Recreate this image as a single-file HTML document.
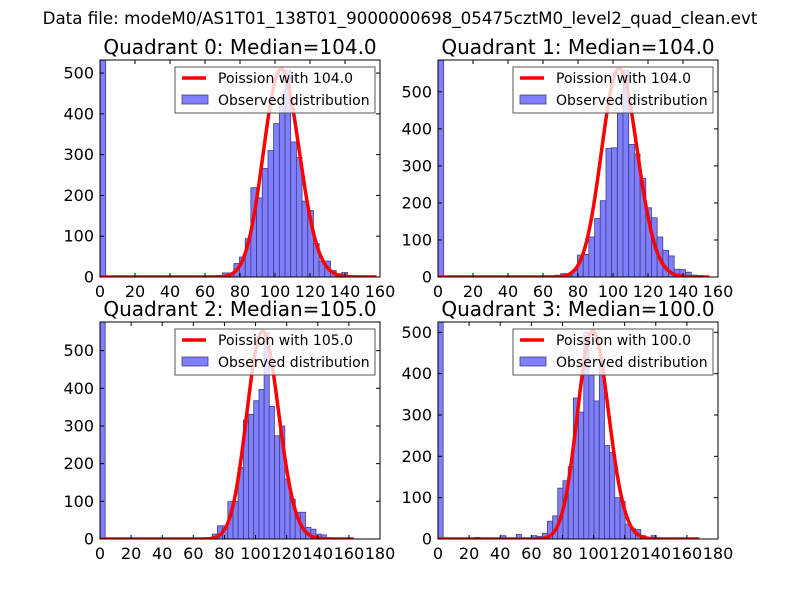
<!DOCTYPE html>
<html><head><meta charset="utf-8">
<style>
html,body{margin:0;padding:0;background:#fff;}
svg{display:block;font-family:"DejaVu Sans","Liberation Sans",sans-serif;}
</style></head>
<body>
<svg id="fig" width="800" height="600" viewBox="0 0 800 600" xmlns="http://www.w3.org/2000/svg">
<rect width="800" height="600" fill="#fff"/>
<text x="400" y="24" font-size="16.7" text-anchor="middle">Data file: modeM0/AS1T01_138T01_9000000698_05475cztM0_level2_quad_clean.evt</text>
</svg>
<script>
// ---- data ----
const medians = [104.0, 104.0, 105.0, 100.0];
const zeroBinCounts = [532, 586, 576, 525];
const binWidths = [3.25, 3.25, 3.33, 3.33];
const xMaxes = [160, 160, 180, 180];
const yMaxes = [532, 586, 576, 525];
const curvePeaks = [510, 563, 551, 503];
const curveEnds = [158, 155, 163, 168];
const q0Edges = [66.7,70,73.2,76.5,79.7,83,86.2,89.5,92.7,96,99.2,102.5,105.7,109,112.2,115.5,118.7,122,125.2,128.5,131.7,135,138.2];
const q0Counts = [4,10,10,33,49,94,219,194,266,310,376,419,507,331,293,186,163,82,39,39,16,8,11];
const q1Edges = [66.7,70,73.2,76.5,79.7,83,86.2,89.5,92.7,96,99.2,102.5,105.7,109,112.2,115.5,118.7,122,125.2,128.5,131.7,135,138.2,141.5,144.7,148,151.2];
const q1Counts = [5,9,9,18,59,61,108,158,206,347,349,442,559,358,332,266,187,160,108,72,57,21,20,13,5,4,2];
const q2Edges = [72.2,75.5,78.8,82.2,85.5,88.8,92.2,95.5,98.8,102.2,105.5,108.8,112.2,115.5,118.8,122.2,125.5,128.8,132.2,135.5,138.8,142.2];
const q2Counts = [13,35,35,99,100,190,316,331,367,397,549,352,274,300,159,106,71,71,31,26,13,11];
const q3Edges = [23.7,40.3,50.3,60.3,63.7,67,70.3,73.7,77,80.3,83.7,87,90.3,93.7,97,100.3,103.7,107,110.3,113.7,117,120.3,123.7,127,130.3,137];
const q3Counts = [4,8,11,8,6,14,43,56,123,141,175,341,307,500,396,334,430,226,209,100,91,36,25,23,8,8];
const allEdges = [q0Edges, q1Edges, q2Edges, q3Edges];
const allCounts = [q0Counts, q1Counts, q2Counts, q3Counts];
const xTickStep = 20;
const yTickStep = 100;

const NS = "http://www.w3.org/2000/svg";
const svg = document.getElementById('fig');
function mk(tag, attrs, parent){ const e=document.createElementNS(NS,tag); for(const k in attrs) e.setAttribute(k,attrs[k]); (parent||svg).appendChild(e); return e; }
function lgamma(z){ if(z<1) return 0; return (z-0.5)*Math.log(z)-z+0.5*Math.log(2*Math.PI)+1/(12*z)-1/(360*z*z*z); }
function pois(k,mu){ return Math.exp(k*Math.log(mu)-mu-lgamma(k+1)); }

const boxes = [[100,60],[438,60],[100,322],[438,322]];
const W=280, H=217;
for(let p=0;p<4;p++){
  const [L,T]=boxes[p];
  const g = mk('g',{});
  
  
  const sx = v => L + v/xMaxes[p]*W;
  const sy = v => T + H - v/yMaxes[p]*H;
  const clip = mk('clipPath',{id:'c'+p},g);
  mk('rect',{x:L,y:T,width:W,height:H},clip);
  const plot = mk('g',{'clip-path':'url(#c'+p+')'},g);
  const zb = mk('rect',{x:sx(0),y:sy(zeroBinCounts[p]),width:sx(binWidths[p])-sx(0),height:sy(0)-sy(zeroBinCounts[p]),fill:'#7f7fff',stroke:'#3f3f80','stroke-width':0.8},plot);
  
  
  const edges=allEdges[p], counts=allCounts[p];
  for(let i=0;i<edges.length;i++){
    const r = mk('rect',{x:sx(edges[i]),y:sy(counts[i]),width:sx(edges[i]+binWidths[p])-sx(edges[i]),height:sy(0)-sy(counts[i]),fill:'#7f7fff',stroke:'#3f3f80','stroke-width':0.8},plot);
    
    
  }
  const mu=medians[p]; const peak=pois(Math.round(mu),mu);
  let d='';
  for(let k=0;k<=curveEnds[p];k++){ const v=pois(k,mu)/peak*curvePeaks[p]; d+=(k?'L':'M')+sx(k).toFixed(2)+','+sy(v).toFixed(2); }
  const c = mk('path',{d:d,fill:'none',stroke:'#ff0000','stroke-width':3.5,'stroke-linejoin':'round'},plot);
  
  
  mk('rect',{x:L,y:T,width:W,height:H,fill:'none',stroke:'#000','stroke-width':1},g);
  for(let v=0; v<=xMaxes[p]; v+=xTickStep){
    const x=sx(v);
    mk('line',{x1:x,y1:T+H,x2:x,y2:T+H-4,stroke:'#000'},g);
    mk('line',{x1:x,y1:T,x2:x,y2:T+4,stroke:'#000'},g);
    const t=mk('text',{x:x,y:T+H+20,'font-size':16,'text-anchor':'middle'},g);
    t.textContent=v;
    
    
  }
  for(let v=0; v<=yMaxes[p]; v+=yTickStep){
    const y=sy(v);
    mk('line',{x1:L,y1:y,x2:L+4,y2:y,stroke:'#000'},g);
    mk('line',{x1:L+W,y1:y,x2:L+W-4,y2:y,stroke:'#000'},g);
    const t=mk('text',{x:L-6,y:y+5.5,'font-size':16,'text-anchor':'end'},g);
    t.textContent=v;
    
    
  }
  const tt=mk('text',{x:L+W/2,y:T-6,'font-size':20,'text-anchor':'middle'},g);
  tt.textContent='Quadrant '+p+': Median='+medians[p].toFixed(1);
  
  
  const lg=mk('g',{},g);
  
  
  mk('rect',{x:L+75,y:T+7,width:200,height:46,fill:'#fff','fill-opacity':0.8,stroke:'#555','stroke-width':1},lg);
  mk('line',{x1:L+82,y1:T+18,x2:L+106,y2:T+18,stroke:'#ff0000','stroke-width':3.5},lg);
  const l1=mk('text',{x:L+118,y:T+23,'font-size':14},lg);
  l1.textContent='Poission with '+medians[p].toFixed(1);
  
  
  mk('rect',{x:L+82,y:T+35,width:26,height:9,fill:'#7f7fff',stroke:'#3f3f80','stroke-width':0.8},lg);
  const l2=mk('text',{x:L+118,y:T+45,'font-size':14},lg);
  l2.textContent='Observed distribution';
  
  
}
</script>
</body></html>
